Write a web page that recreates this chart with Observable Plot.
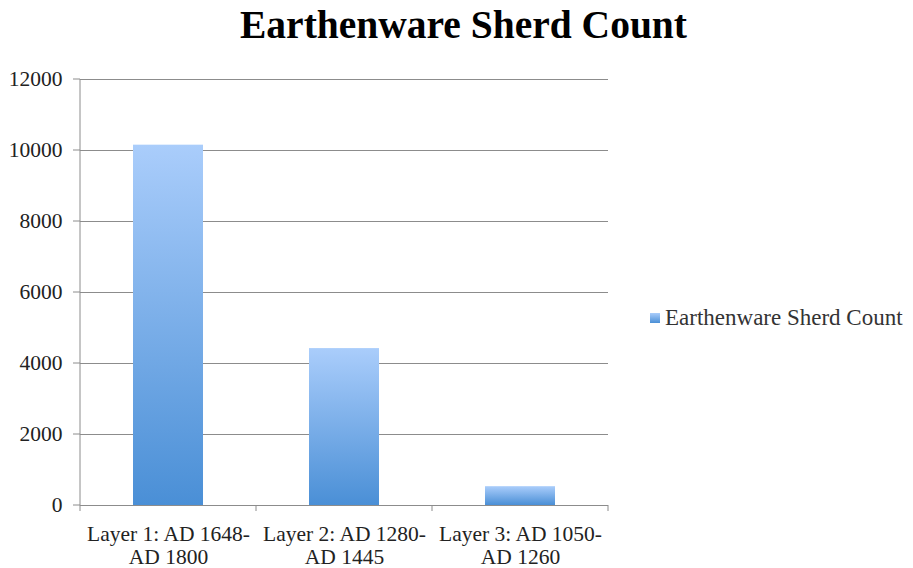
<!DOCTYPE html>
<html>
<head>
<meta charset="utf-8">
<script src="https://cdn.jsdelivr.net/npm/d3@7"></script>
<script src="https://cdn.jsdelivr.net/npm/@observablehq/plot@0.6"></script>
<style>
  html, body { margin: 0; padding: 0; background: #fff; }
  #wrap { position: relative; width: 913px; height: 568px; overflow: hidden; }
  #title { position: absolute; left: 7px; width: 913px; top: 2px; text-align: center;
    font-family: "Liberation Serif", serif; font-weight: bold; font-size: 39.5px; color: #000; }
  #legend { position: absolute; left: 650px; top: 305px; font-family: "Liberation Serif", serif;
    font-size: 23px; color: #333; display: flex; align-items: center; white-space: nowrap; }
  #legend .sw { width: 10px; height: 10px; margin-right: 5px;
    background: linear-gradient(#aacdfb, #4a8fd6); }
  #chart { position: absolute; left: 0; top: 0; }
</style>
</head>
<body>
<div id="wrap">
  <div id="chart"></div>
  <div id="title"></div>
  <div id="legend"><span class="sw"></span><span id="legtext"></span></div>
</div>
<script>
const titleText = "Earthenware Sherd Count";
const seriesName = "Earthenware Sherd Count";
const categories = ["Layer 1: AD 1648-\nAD 1800", "Layer 2: AD 1280-\nAD 1445", "Layer 3: AD 1050-\nAD 1260"];
const counts = [10150, 4420, 530];
const yTicks = [0, 2000, 4000, 6000, 8000, 10000, 12000];

document.getElementById("title").textContent = titleText;
document.getElementById("legtext").textContent = seriesName;

const data = categories.map((c, i) => ({category: c, count: counts[i]}));

// axis lines and band-boundary ticks, positioned from the scales
const frameLines = (index, scales, values, dims) => {
  const g = d3.create("svg:g").attr("stroke", "#8c8c8c").attr("stroke-width", 1);
  const xs = scales.x, ys = scales.y;
  const desc = (scales.scales && scales.scales.x) || {};
  const y0 = ys(yTicks[0]), y1 = ys(yTicks[yTicks.length - 1]);
  const bw = desc.bandwidth != null ? desc.bandwidth : xs.bandwidth;
  const step = desc.step != null ? desc.step : (xs(categories[1]) - xs(categories[0]));
  const start = xs(categories[0]);
  const left = start - (step - bw) / 2;
  g.append("line").attr("x1", left).attr("x2", left).attr("y1", y0 + 6).attr("y2", y1);
  categories.forEach(c => {
    const xb = xs(c) + bw + (step - bw) / 2;
    g.append("line").attr("x1", xb).attr("x2", xb).attr("y1", y0).attr("y2", y0 + 6);
  });
  yTicks.forEach(t => {
    g.append("line").attr("x1", left - 7).attr("x2", left).attr("y1", ys(t)).attr("y2", ys(t));
  });
  return g.node();
};

const chart = Plot.plot({
  width: 913,
  height: 568,
  marginLeft: 80,
  marginRight: 305,
  marginTop: 79,
  marginBottom: 63,
  style: {fontFamily: "'Liberation Serif', serif", background: "#fff"},
  x: {domain: categories, paddingInner: 0.6, paddingOuter: 0.3, label: null},
  y: {domain: [0, 12000], label: null},
  marks: [
    Plot.gridY(yTicks, {stroke: "#8c8c8c", strokeOpacity: 1, strokeWidth: 1}),
    Plot.barY(data, {x: "category", y: "count", fill: "url(#barGrad)"}),
    Plot.ruleY([0], {stroke: "#8c8c8c", strokeWidth: 1}),
    frameLines,
    Plot.axisY(yTicks, {tickSize: 0, tickPadding: 18, fontSize: 21.5, fill: "#222", label: null, tickFormat: d => String(d)}),
    Plot.axisX({tickSize: 0, tickPadding: 19, fontSize: 21.5, fill: "#222", lineHeight: 1.07, label: null})
  ]
});

const svg = d3.select(chart);
const defs = svg.insert("defs", ":first-child");
const grad = defs.append("linearGradient").attr("id", "barGrad")
  .attr("x1", 0).attr("y1", 0).attr("x2", 0).attr("y2", 1);
grad.append("stop").attr("offset", "0%").attr("stop-color", "#aacdfb");
grad.append("stop").attr("offset", "100%").attr("stop-color", "#4a8fd6");

document.getElementById("chart").appendChild(chart);
</script>
</body>
</html>
